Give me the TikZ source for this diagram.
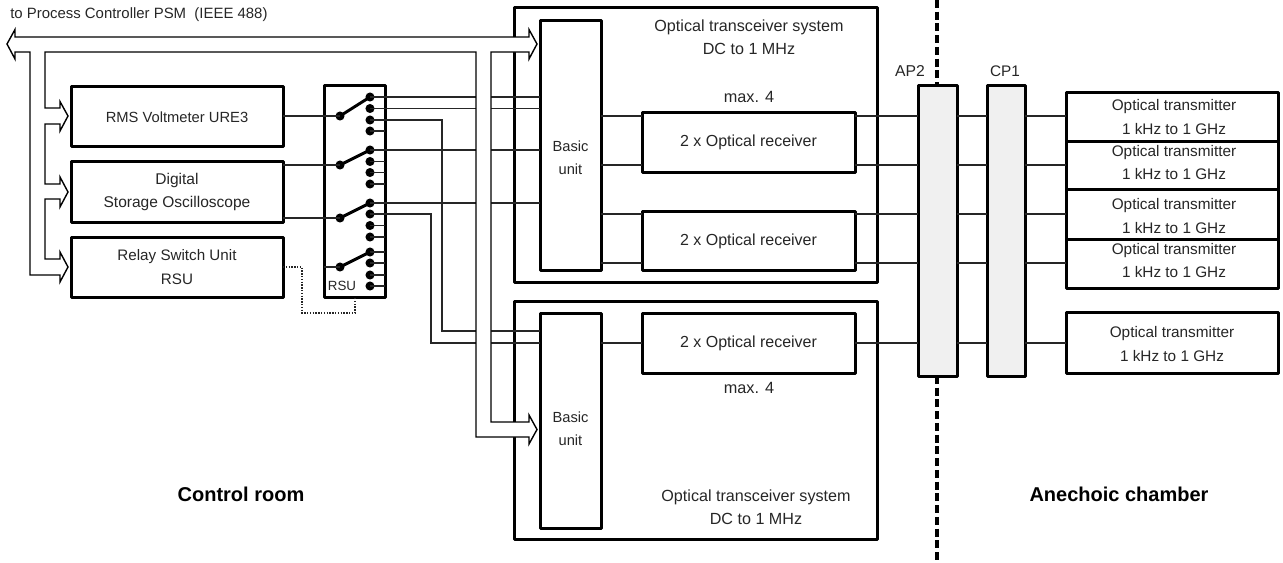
\documentclass[tikz,border=0pt]{standalone}
\usepackage{fontspec}
\setmainfont{Liberation Sans}
\usetikzlibrary{calc}
\definecolor{ink}{HTML}{262626}
\definecolor{panel}{HTML}{F0F0F0}
\tikzset{
  x=0.75pt,y=-0.75pt,
  thick box/.style={draw=black,line width=2.25pt,inner sep=0pt,outer sep=0pt,line join=round},
  wire/.style={draw=ink,line width=0.9pt},
  dotwire/.style={draw=ink,line width=0.8pt,dash pattern=on 1pt off 1.1pt},
  lever/.style={draw=black,line width=2.2pt},
  label/.style={text=ink,inner sep=0pt,align=center,font=\fontsize{#1}{17.4}\selectfont},
  label/.default=11.5,
  boldlabel/.style={text=black,inner sep=0pt,align=center,font=\fontsize{15}{18}\selectfont\bfseries},
  contact/.style={circle,fill=black,inner sep=0pt,minimum size=6.8pt},
  bus/.style={draw=black,line width=1.05pt,fill=white,line join=miter},
  boundary/.style={draw=black,line width=2.3pt,dash pattern=on 6pt off 2.8pt},
}
% name, x1, y1, x2, y2, extra style
\newcommand{\pxbox}[6]{\node[thick box,#6,minimum width={(#4-#2)*0.75pt},minimum height={(#5-#3)*0.75pt}] (#1) at ({(#2+#4)/2},{(#3+#5)/2}) {};}
\begin{document}
\begin{tikzpicture}
\useasboundingbox (0,0) rectangle (1283,562);
% system frames
\pxbox{sysA}{514}{7}{877}{282}{}
\pxbox{sysB}{514}{301}{877}{539}{}
% functional boxes
\pxbox{rms}{71}{86}{283}{146}{fill=white}
\pxbox{dso}{71}{161}{283}{222}{fill=white}
\pxbox{rsuctl}{71}{237}{283}{297}{fill=white}
\pxbox{matrix}{324}{85}{385}{297}{fill=white}
\pxbox{basicA}{540}{20}{601}{270}{fill=white}
\pxbox{basicB}{540}{313}{601}{528}{fill=white}
\pxbox{rxA}{642}{112}{855}{172}{fill=white}
\pxbox{rxB}{642}{211}{855}{270}{fill=white}
\pxbox{rxC}{642}{313}{855}{373}{fill=white}
% contacts
\foreach \n/\px/\py in {p1/340/116,p2/340/165,p3/340/218,p4/340/267,
  c11/370/97,c12/370/108.5,c13/370/120,c14/370/131,
  c21/370/150,c22/370/161.5,c23/370/172.5,c24/370/184,
  c31/370/203,c32/370/214,c33/370/225.5,c34/370/237,
  c41/370/252,c42/370/263,c43/370/275,c44/370/286}
  \node[contact] (\n) at (\px,\py) {};
% stubs of contacts up to right side of matrix
\foreach \n in {c14,c22,c23,c24,c33,c34,c41,c42,c43,c44}
  \draw[wire] (\n.center) -- (\n.center -| matrix.east);
% levers
\foreach \a/\b in {p1/c11,p2/c21,p3/c31,p4/c41}
  \draw[lever] (\a.center) -- (\b.center);
% inputs into the matrix
\coordinate (rmsout) at (rms.east |- p1);
\coordinate (dsoa) at (dso.east |- p2);
\coordinate (dsob) at (dso.east |- p3);
\draw[wire] (rmsout) -- (p1.center);
\draw[wire] (dsoa) -- (p2.center);
\draw[wire] (dsob) -- (p3.center);
\draw[wire] (matrix.west |- p4) -- (p4.center);
% outputs to basic units
\coordinate (k1) at (442,331);
\coordinate (k2) at (431,343);
\draw[wire] (c11.center) -- (c11.center -| basicA.west);
\draw[wire] (c12.center) -- (c12.center -| basicA.west);
\draw[wire] (c21.center) -- (c21.center -| basicA.west);
\draw[wire] (c31.center) -- (c31.center -| basicA.west);
\draw[wire] (c13.center) -- (c13.center -| k1) -- (k1) -- (k1 -| basicB.west);
\draw[wire] (c32.center) -- (c32.center -| k2) -- (k2) -- (k2 -| basicB.west);
% remote control
\coordinate (ra) at (302,267);
\coordinate (rb) at (302,313);
\coordinate (rc) at (355,313);
\draw[dotwire] (rsuctl.east |- ra) -- (ra) -- (rb) -- (rc) -- (rc |- matrix.south);
% AP2 / CP1 / boundary
\coordinate (bt) at (937,0);
\coordinate (bb) at (937,562);
\pxbox{aptwo}{918}{85}{957}{376}{fill=panel}
\pxbox{cpone}{987}{85}{1025}{376}{fill=panel}
\draw[boundary] (bt) -- (bt |- aptwo.north);
\draw[boundary] (bb |- aptwo.south) -- (bb);
% transmitters
\pxbox{txA}{1066}{92}{1278}{141}{fill=white}
\pxbox{txB}{1066}{141}{1278}{189}{fill=white}
\pxbox{txC}{1066}{189}{1278}{239}{fill=white}
\pxbox{txD}{1066}{239}{1278}{288}{fill=white}
\pxbox{txE}{1066}{312}{1278}{373}{fill=white}
% optical paths
\foreach \yy/\rx/\tx in {116/rxA/txA,165/rxA/txB,214/rxB/txC,263/rxB/txD,343/rxC/txE}{
  \coordinate (y) at (0,\yy);
  \draw[wire] (y -| basicA.east) -- (y -| \rx.west);
  \draw[wire] (y -| \rx.east) -- (y -| aptwo.west);
  \draw[wire] (y -| aptwo.east) -- (y -| cpone.west);
  \draw[wire] (y -| cpone.east) -- (y -| \tx.west);
}
% bus
\draw[bus] (7,44) -- (15,29.5) -- (15,37) -- (529,37) -- (529,29.5) -- (537,44) -- (529,59) -- (529,52)
  -- (491,52) -- (491,422) -- (529,422) -- (529,415) -- (537,429.5) -- (529,444) -- (529,437)
  -- (476,437) -- (476,52) -- (45,52) -- (45,108) -- (60,108) -- (60,101.5) -- (68,116) -- (60,131) -- (60,124)
  -- (45,124) -- (45,184) -- (60,184) -- (60,177) -- (68,192) -- (60,207) -- (60,199)
  -- (45,199) -- (45,259) -- (60,259) -- (60,252) -- (68,267) -- (60,282) -- (60,275)
  -- (30,275) -- (30,52) -- (15,52) -- (15,59) -- cycle;
% texts
\node[label=11.2,anchor=west] (tbus) at (10,15) {to Process Controller PSM\ \ (IEEE 488)};
\node[label=11.05] (trms) at (177,117) {RMS Voltmeter URE3};
\node[label=11.65] (tdso) at (177,192) {Digital\\Storage Oscilloscope};
\node[label=11.4] (trsu) at (177,267) {Relay Switch Unit\\RSU};
\node[label=10] (tmat) at (342,286) {RSU};
\node[label=11] (tba) at (570.5,158) {Basic\\unit};
\node[label=11] (tbb) at (570.5,429) {Basic\\unit};
\node[label=12.1] (tsa) at (749,37) {Optical transceiver system\\DC to 1 MHz};
\node[label=12.1] (tsb) at (756,507) {Optical transceiver system\\DC to 1 MHz};
\node[label=12.2] (tma) at (749,97) {max. 4};
\node[label=12.2] (tmb) at (749,388) {max. 4};
\node[label=12] (trxa) at (748.5,142) {2 x Optical receiver};
\node[label=12] (trxb) at (748.5,241) {2 x Optical receiver};
\node[label=12] (trxc) at (748.5,343) {2 x Optical receiver};
\node[label=11.8] (tap) at (910,71) {AP2};
\node[label=11.5] (tcp) at (1005,71) {CP1};
\node[label] (ttxa) at (1174,117) {Optical transmitter\\1 kHz to 1 GHz};
\node[label] (ttxb) at (1174,162.5) {Optical transmitter\\1 kHz to 1 GHz};
\node[label] (ttxc) at (1174,216) {Optical transmitter\\1 kHz to 1 GHz};
\node[label] (ttxd) at (1174,260.5) {Optical transmitter\\1 kHz to 1 GHz};
\node[label] (ttxe) at (1172,344) {Optical transmitter\\1 kHz to 1 GHz};
\node[boldlabel] (tctrl) at (241,494) {Control room};
\node[boldlabel] (tane) at (1119,494) {Anechoic chamber};
\end{tikzpicture}
\end{document}
